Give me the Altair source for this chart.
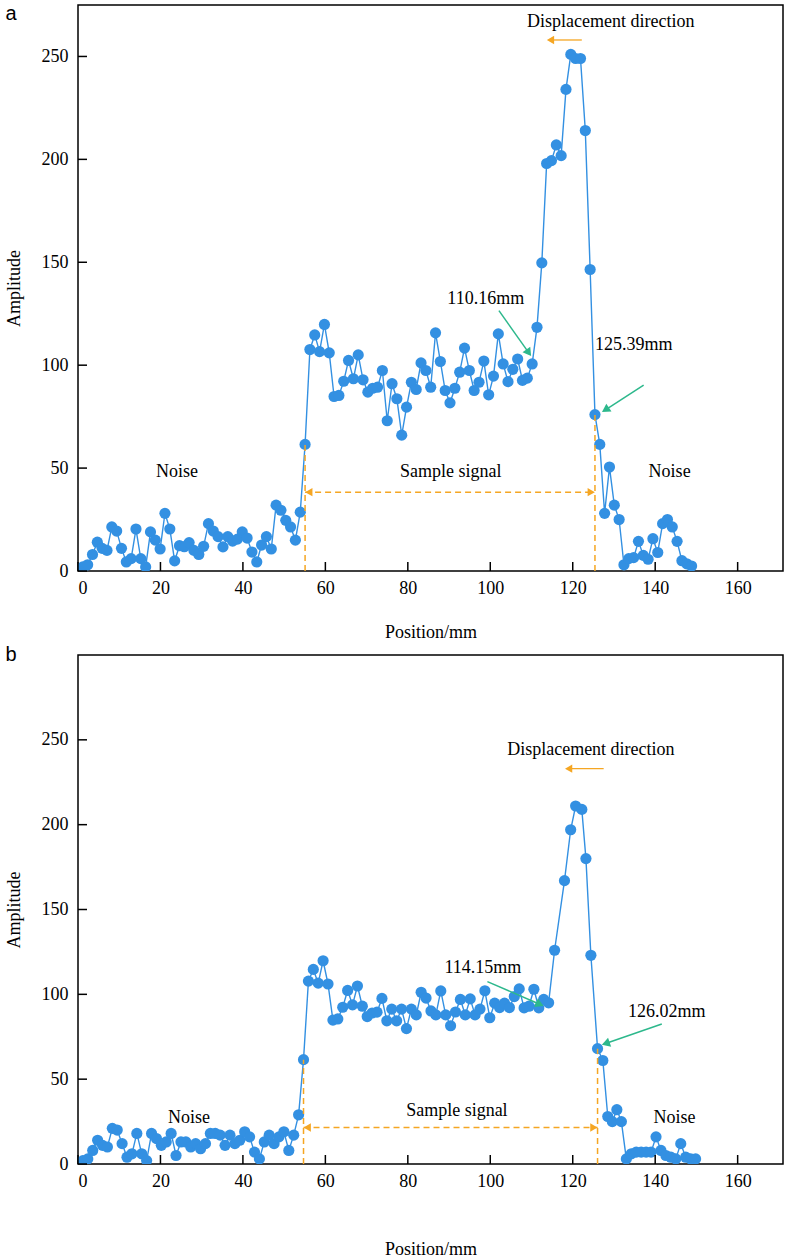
import math
import altair as alt
import pandas as pd

# ---- scan a: amplitudes on a uniform position grid ----
STEP_A = 150 / 128          # mm between samples
amp_a = [
    2, 3, 8, 14, 11, 10, 21.4, 19.4, 11, 4.4, 6, 20.4, 6, 2, 19, 15, 10.7, 28, 20.4, 4.9,
    12.3, 11.8, 13.8, 10, 8, 12, 23, 19.4, 16.7, 11.7, 16.7, 14.5, 15.5, 19, 16, 9.2, 4.4,
    12.6, 16.7, 10.7, 32, 29.5, 24.6, 21.4, 15, 28.6, 61.5,
    107.6, 114.7, 106.6, 119.8, 106, 84.8, 85.3, 92.2, 102.3, 93.4, 105, 92.9, 86.9, 88.8,
    89.3, 97.4, 73, 91, 83.7, 66, 79.6, 91.7, 88.2, 101.1, 97.4, 89.3, 115.7, 101.8, 87.7,
    81.7, 88.8, 96.6, 108.3, 97.4, 87.7, 91.7, 102, 85.6, 94.7, 115.2, 100.6, 92, 98, 103,
    92.6, 93.7, 100.6,
    118.4, 149.7, 198, 199.4, 207, 201.8, 234, 251, 249, 249, 214, 146.5, 76,
    61.5, 28, 50.5, 32, 25, 3, 6, 6.5, 14.4, 7.6, 5.7, 15.7, 9, 23, 25, 21.4, 14.4, 5, 3.5, 2.4,
]
pos_a = [round(STEP_A * (i + 1), 2) for i in range(len(amp_a))]

# ---- scan b: uniform grid up to 114.15 mm, then the peak and tail samples ----
STEP_B = 114.15 / 96
amp_b_grid = [
    2, 3, 8, 14, 11, 10, 21, 20, 12, 4, 6, 18, 6, 2, 18, 15, 11, 13, 18, 5,
    13, 13, 10, 12, 9, 12, 18, 18, 17, 11, 17, 12, 14, 19, 16, 7, 3, 13, 17, 12,
    16, 19, 8, 17, 29, 61.5,
    107.8, 114.7, 106.6, 119.8, 106.1, 84.8, 85.5, 92.4, 102.3, 93.8, 104.9, 93, 86.9, 89,
    89.5, 97.6, 84.4, 91.3, 84.4, 91.3, 79.8, 91.3, 87.9, 101.2, 97.8, 90.2, 87.9, 102, 87.9,
    81.5, 89.6, 97, 87.9, 97.3, 87.9, 91.3, 102.1, 86.2, 94.8, 92.2, 94.8, 92.2, 98.7, 103.2, 92,
    93, 103, 92, 97, 95,
]
pos_b_tail = [115.6, 118.0, 119.5, 120.7, 122.2, 123.2, 124.4, 126.02,
              127.3, 128.5, 129.6, 130.7, 131.8, 133.0, 134.2, 135.4, 136.6, 137.8,
              139.0, 140.2, 141.4, 142.6, 143.8, 145.0, 146.2, 147.4, 148.6, 149.8]
amp_b_tail = [126, 167, 197, 211, 209, 180, 123, 68,
              61, 28, 25, 32, 25, 3, 6, 7, 7, 7, 7, 16, 8, 5, 4, 3, 12, 4, 3, 3]
pos_b = [round(STEP_B * (i + 1), 2) for i in range(len(amp_b_grid))] + pos_b_tail
amp_b = amp_b_grid + amp_b_tail

X_TICKS = [0, 20, 40, 60, 80, 100, 120, 140, 160]
Y_TICKS = [0, 50, 100, 150, 200, 250]

BLUE = "#3390E2"
ORANGE = "#F5A623"
GREEN = "#2DB88C"
SERIF = "Liberation Serif"
W = 705
XMAX = 171


def panel(pos, amp, ymax, height, ann, x_title_pad):
    xs = alt.Scale(domain=[0, XMAX], nice=False, zero=False)
    ys = alt.Scale(domain=[0, ymax], nice=False, zero=False)
    px_x = W / XMAX
    px_y = height / ymax

    x_axis = alt.Axis(values=X_TICKS, ticks=False, domain=False, grid=False,
                      labelFont=SERIF, labelFontSize=18, labelColor="black",
                      labelPadding=8, title="Position/mm", titleFont=SERIF,
                      titleFontSize=18, titleFontWeight="normal", titleColor="black",
                      titlePadding=x_title_pad)
    y_axis = alt.Axis(values=Y_TICKS, ticks=False, domain=False, grid=False,
                      labelFont=SERIF, labelFontSize=18, labelColor="black",
                      labelPadding=10, title="Amplitude", titleFont=SERIF,
                      titleFontSize=18, titleFontWeight="normal", titleColor="black",
                      titlePadding=18)

    def X(field):
        return alt.X(field, scale=xs, axis=x_axis, title="Position/mm")

    def Y(field):
        return alt.Y(field, scale=ys, axis=y_axis, title="Amplitude")

    df = pd.DataFrame({"pos": pos, "amp": amp})
    base = alt.Chart(df)
    line = base.mark_line(color=BLUE, strokeWidth=1.4, clip=True).encode(
        x=X("pos:Q"), y=Y("amp:Q"))
    dots = base.mark_circle(color=BLUE, size=125, opacity=1, clip=True).encode(
        x=X("pos:Q"), y=Y("amp:Q"))

    xt = alt.Chart(pd.DataFrame({"t": X_TICKS})).mark_rule(color="black", strokeWidth=1.5).encode(
        x=X("t:Q"), y=alt.value(height), y2=alt.value(height - 9))
    yt = alt.Chart(pd.DataFrame({"t": Y_TICKS})).mark_rule(color="black", strokeWidth=1.5).encode(
        y=Y("t:Q"), x=alt.value(0), x2=alt.value(9))

    # dashed guides at the signal edges
    edge_amp = [amp[pos.index(e)] for e in ann["edges"]]
    edges = pd.DataFrame({"x": ann["edges"], "y0": [0, 0], "y1": edge_amp})
    vlines = alt.Chart(edges).mark_rule(color=ORANGE, strokeWidth=1.5, strokeDash=[6, 4]).encode(
        x=X("x:Q"), y=Y("y0:Q"), y2="y1:Q")

    span = pd.DataFrame({"x0": [ann["edges"][0]], "x1": [ann["edges"][1]], "y": [ann["span_y"]]})
    hline = alt.Chart(span).mark_rule(color=ORANGE, strokeWidth=1.5, strokeDash=[6, 4]).encode(
        x=X("x0:Q"), x2="x1:Q", y=Y("y:Q"))
    heads = pd.DataFrame({"x": [ann["edges"][0] + 0.9, ann["edges"][1] - 0.9],
                          "y": [ann["span_y"]] * 2,
                          "shape": ["triangle-left", "triangle-right"]})
    span_heads = alt.Chart(heads).mark_point(filled=True, color=ORANGE, opacity=1, size=70).encode(
        x=X("x:Q"), y=Y("y:Q"), shape=alt.Shape("shape:N", scale=None, legend=None))

    # displacement arrow
    d0, d1, dy = ann["disp"]
    disp = alt.Chart(pd.DataFrame({"x0": [d0], "x1": [d1 + 1.2], "y": [dy]})).mark_rule(
        color=ORANGE, strokeWidth=1.3).encode(x=X("x0:Q"), x2="x1:Q", y=Y("y:Q"))
    disp_head = alt.Chart(pd.DataFrame({"x": [d1 + 1.2], "y": [dy]})).mark_point(
        shape="triangle-left", filled=True, color=ORANGE, opacity=1, size=70).encode(
        x=X("x:Q"), y=Y("y:Q"))

    # green pointer arrows
    layers = []
    for (x0, y0, x1, y1) in ann["pointers"]:
        sx = (x1 - x0) * px_x
        sy = -(y1 - y0) * px_y
        ang = math.degrees(math.atan2(sx, -sy)) % 360
        n = math.hypot(sx, sy)
        bx = x1 - (sx / n) * 4 / px_x
        by = y1 + (sy / n) * 4 / px_y
        layers.append(alt.Chart(pd.DataFrame({"x0": [x0], "y0": [y0], "x1": [bx], "y1": [by]}))
                      .mark_rule(color=GREEN, strokeWidth=1.5).encode(
            x=X("x0:Q"), y=Y("y0:Q"), x2="x1:Q", y2="y1:Q"))
        layers.append(alt.Chart(pd.DataFrame({"x": [bx], "y": [by]})).mark_point(
            shape="triangle", filled=True, color=GREEN, opacity=1, size=90, angle=ang).encode(
            x=X("x:Q"), y=Y("y:Q")))

    texts = pd.DataFrame(ann["texts"], columns=["x", "y", "label"])
    labels = alt.Chart(texts).mark_text(font=SERIF, fontSize=18, color="black").encode(
        x=X("x:Q"), y=Y("y:Q"), text="label:N")

    tag = alt.Chart(pd.DataFrame({"t": [ann["tag"]]})).mark_text(
        font="Liberation Sans", fontSize=20, color="black", align="center", baseline="middle").encode(
        x=alt.value(-67), y=alt.value(ann["tag_y"]), text="t:N")

    return alt.layer(line, dots, vlines, hline, span_heads, disp, disp_head, *layers,
                     xt, yt, labels, tag).properties(width=W, height=height)


ann_a = {
    "edges": [pos_a[46], pos_a[106]],
    "span_y": 38.3,
    "disp": (122.2, 113.4, 258),
    "pointers": [(102.1, 126.5, 109.7, 105.0), (137.2, 90.3, 127.4, 77.6)],
    "texts": [(129.2, 266.5, "Displacement direction"), (98.9, 132, "110.16mm"),
              (134.8, 109.7, "125.39mm"), (24, 48, "Noise"), (143.5, 48, "Noise"),
              (90.4, 48, "Sample signal")],
    "tag": "a",
    "tag_y": 9,
}

ann_b = {
    "edges": [pos_b[45], 126.02],
    "span_y": 21.5,
    "disp": (127.5, 117.8, 233),
    "pointers": [(99.3, 107.5, 112.6, 93.5), (141.6, 82.5, 127.4, 70.5)],
    "texts": [(124.4, 244, "Displacement direction"), (98.2, 115.6, "114.15mm"),
              (142.8, 89.6, "126.02mm"), (26.9, 27, "Noise"), (144.7, 27, "Noise"),
              (91.9, 31, "Sample signal")],
    "tag": "b",
    "tag_y": 0,
}

top = panel(pos_a, amp_a, 275, 566, ann_a, 26)
bottom = panel(pos_b, amp_b, 300, 509, ann_b, 50)

chart = alt.vconcat(top, bottom, spacing=2).properties(
    padding={"left": 4, "top": 3, "right": 0, "bottom": 0}
).configure_view(stroke="black", strokeWidth=1.5)

chart.save("out.html", embed_options={"renderer": "svg", "actions": False})
